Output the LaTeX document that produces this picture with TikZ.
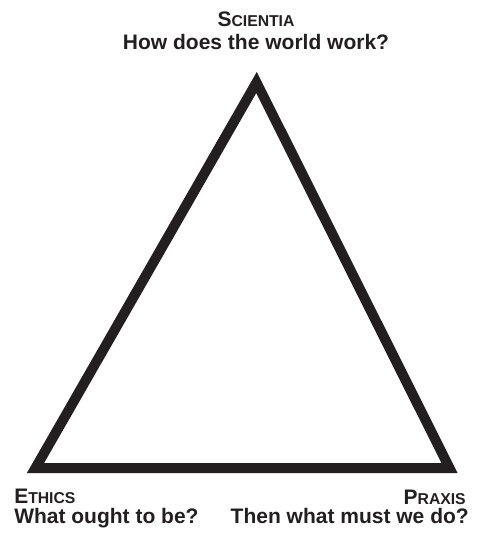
\documentclass[tikz,border=0pt]{standalone}
\usepackage{fontspec}
\setmainfont{Liberation Sans}
\usepackage{xcolor,tikz}
\usetikzlibrary{positioning,calc}
\definecolor{ink}{HTML}{231F20}
\newcommand\fakesc[2]{#1{\fontsize{11.8}{12}\selectfont #2}}
\tikzset{lbl/.style={inner sep=0pt,text=ink,font=\fontsize{15.75}{18}\bfseries\selectfont},
  edge/.style={draw=ink,line width=7.5pt,line join=miter}}

\begin{document}
\begin{tikzpicture}[x=0.75pt,y=-0.75pt]
\useasboundingbox (0,0) rectangle (478,535);
\coordinate (top) at (256.5,82.5);
\coordinate (left) at (35.5,468);
\coordinate (right) at (449.5,468);
\draw[edge] (top)--(left)--(right)--cycle;
% vertex labels
\node[lbl,anchor=base] (sci) at (256,27) {\fakesc{S}{CIENTIA}};
\node[lbl,anchor=base] (sciq) at (256,50) {How does the world work?};
\node[lbl,anchor=base west] (eth) at (14,503) {\fakesc{E}{THICS}};
\node[lbl,anchor=base west] (ethq) at (14,523) {What ought to be?};
\node[lbl,anchor=base east] (prx) at (466,504) {\fakesc{P}{RAXIS}};
\node[lbl,anchor=base east] (prxq) at (469,523) {Then what must we do?};
\end{tikzpicture}
\end{document}
